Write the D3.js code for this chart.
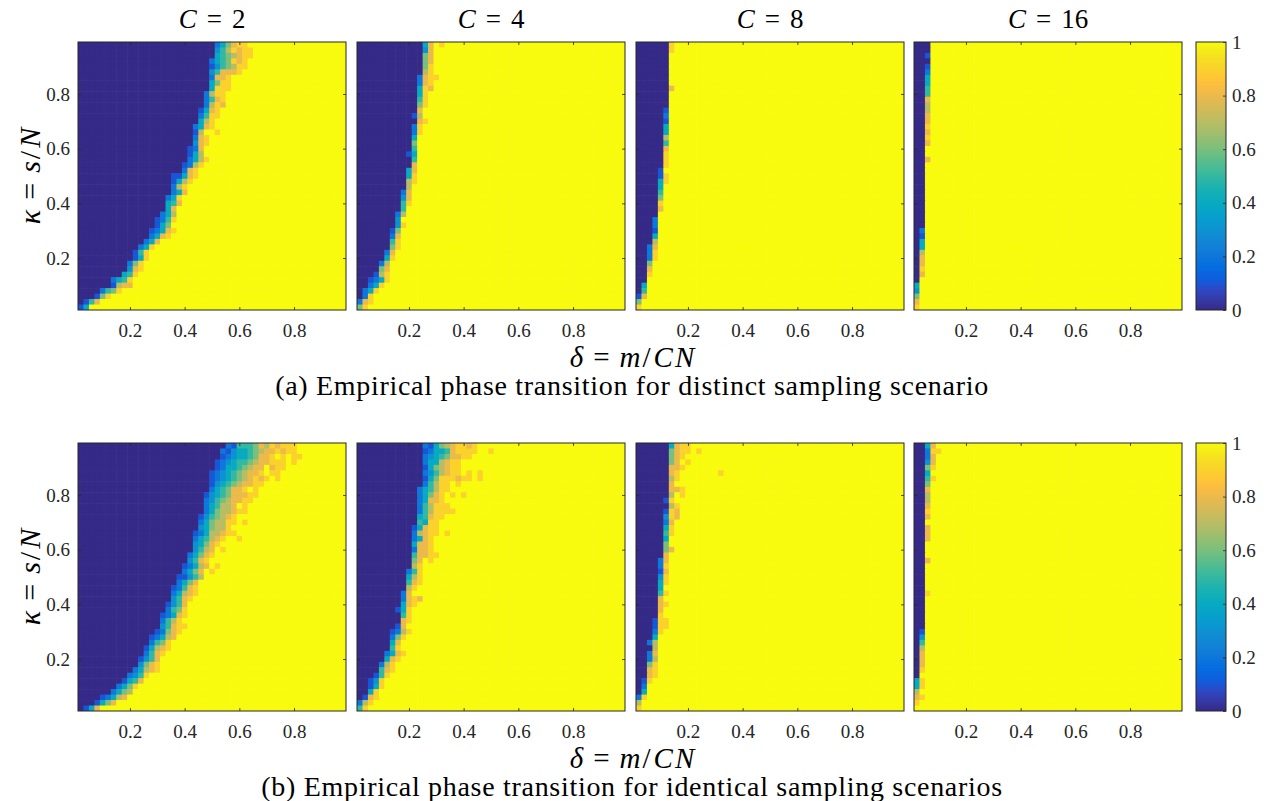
<!DOCTYPE html>
<html><head><meta charset="utf-8">
<script src="https://cdn.jsdelivr.net/npm/d3@7"></script>
<style>body{margin:0;background:#fff}</style>
</head><body><svg id="c" width="1267" height="801"></svg>
<script>
// ---------- data ----------
const Cvalues = [2, 4, 8, 16];
const deltaTicks = [0.2, 0.4, 0.6, 0.8];
const kappaTicks = [0.2, 0.4, 0.6, 0.8];
const cbTicks = [0, 0.2, 0.4, 0.6, 0.8, 1];
// grid centers of delta / kappa (0.02 ... 0.98)
const gridCenters = d3.range(1, 50).map(i => i / 50);
// each row (top kappa=0.98 -> bottom kappa=0.02): "N:digits"
// N leading cells of success rate 0, then transition cells (digit/10, a=1), rest 1
const distinctC2 = ["25:246899","25:3579899","25:4567899","24:2456989","24:1356799","24:358889","24:2889","24:4699","24:4999","23:2799","23:2589","23:2798","22:1489","22:2599","22:479","21:2489","21:17aa9","21:289","21:389","20:128","20:147","20:2479","19:1279","19:289","17:11489","17:1479","17:279","17:248","16:249","16:458","16:48","15:247","14:1259","14:146","13:12489","13:2489","12:248","11:249","10:159","10:149","9:269","9:389","8:459","6:2459","6:1788","4:2569","3:169","1:158","0:14"];
const distinctC4 = ["12:48a9","12:38","12:68","12:68","12:69","12:79","11:2899","11:289","11:498","11:49","11:59","11:69","11:8","10:17","11:89","10:29","10:29","10:4","10:6","10:5","9:14","10:5","10:8","9:48","9:49","9:79","9:7","8:28","8:38","8:59","8:5","7:27","7:3","7:39","6:16","6:28","6:59","6:69","5:28","5:49","4:27","4:68","3:179","2:1249","2:249","1:249","1:29","0:289","0:69"];
const distinctC8 = ["6:9","6:9","6:","6:","6:","6:","6:","6:","6:8","6:","6:","6:","5:1","5:2","5:1","5:4","5:4","5:7","5:5","5:8","5:9","5:9","5:9","4:1","4:19","4:49","4:4","4:5","4:6","4:9","4:8","4:","3:2","3:2","3:1","3:4","3:7","2:28","2:29","2:29","2:6","2:8","2:9","2:","1:4","1:5","0:18","0:6","0:9"];
const distinctC16 = ["3:","3:","2:1","3:","2:1","2:2","2:4","2:4","2:5","2:5","2:8","2:7","2:7","2:8","2:8","2:9","2:8","2:9","2:8","2:","2:","2:8","2:","2:","2:","2:","2:","2:","2:","2:","2:","2:","2:","2:","1:2","1:1","1:4","1:4","1:7","1:8","1:8","1:9","1:8","1:","0:4","0:3","0:6","0:8","0:9"];
const identicalC2 = ["27:2155568798999","26:21344567889899","26:1234456889a9a99","25:1234556788999a9","25:124456788a899","24:1234567889a99","24:12345678989a9","24:1345678899","24:2456889a9","23:1345688899","23:235678899","23:245778a9","23:24677899","22:1356789","22:2467799a9","22:346779","21:12477899","21:245789aa9","21:34689","21:3578a9","20:24689","20:3589","19:12478a9","19:2468a9","18:11357","18:2468","17:12589","17:24789","17:3589","16:1358","16:2569","15:12489","15:2579","15:35899","14:12689","13:12478","13:2569","12:14789","12:2589","11:1358","11:3689","10:24789","9:2359","8:1458","7:2469","6:2467","4:12478","3:1468","1:148"];
const identicalC4 = ["12:2146789989","12:1244589999aa9","12:234568899","12:2447899","12:1467899","12:2357899a9a9","12:146999899a9","12:25799a9","11:245799","11:24689a9a9","11:24889","11:257999","11:2579999","11:45899","11:5499","10:14899","10:27899a9","10:2489","10:4889","10:2889","10:58899","10:68a9","10:79","9:259","9:479","9:589","9:79","8:28","8:2898","8:489","7:149","8:59","8:89","7:18","6:1279","6:269","6:48","6:59","5:2489","5:489","4:279","4:589","3:159","2:139","2:149","2:49","1:189","0:279","0:59"];
const identicalC8 = ["6:4899","6:6899a9","6:689","6:68a9","6:889","6:89aaaaaaa9","6:79","6:8","6:889","6:7a9","5:19","6:79","5:198","5:398","5:28","5:49","5:59","5:4","5:6","5:68","5:8","4:28","4:29","4:18","4:39","4:49","4:4","4:59","4:8","4:89","4:8","4:9","3:199","3:199","3:29","3:4","2:27","3:7","2:28","2:27","2:69","2:89","2:89","1:19","1:2","1:4","0:29","0:7","0:9"];
const identicalC16 = ["2:48","2:299","2:28","2:38","2:69","2:4","2:59","2:6","2:8","2:7","2:7","2:8","2:9","2:8","2:","2:8","2:8","2:8","2:","2:","2:","2:8","2:","2:","2:","2:","2:","2:9","2:","2:","2:","2:","2:","2:","1:1","1:3","1:5","1:7","1:8","1:8","1:8","1:9","1:","0:49","0:49","0:7","0:89","0:9","0:"];
const captions = ["(a) Empirical phase transition for distinct sampling scenario",
                  "(b) Empirical phase transition for identical sampling scenarios"];

// parula colormap (MATLAB)
const parulaPos = [0,3,5,7,10,14,18,21,25,28,31,35,38,42,45,49,52,54,56,58,60,62,63].map(i => i / 63);
const parulaCol = ["#352a87","#353dad","#2c4ac7","#0f5cdd","#046de0","#127dd8","#108ed2","#079ccf","#07a9c2","#15b1b4","#2eb7a4","#59bd8c","#7cbf7b","#a5be6b","#c0bc60","#e1b952","#f8bb44","#ffc337","#fcce2e","#f7d826","#f5e41d","#f6f313","#f9fb0e"];

// ---------- drawing ----------
const svg = d3.select("#c");
const FONT = "Liberation Serif, Times New Roman, serif";
const INK = "#262626";
const P = 268;
const panelX = [78, 357, 636, 914];
const panelY = [42, 443];
const cbX = 1196, cbW = 30;
const color = d3.scaleLinear().domain(parulaPos).range(parulaCol).interpolate(d3.interpolateRgb).clamp(true);
const scenarios = [[distinctC2, distinctC4, distinctC8, distinctC16],
                   [identicalC2, identicalC4, identicalC8, identicalC16]];

function parseRow(s) {
  const [e, m] = s.split(":");
  const edge = +e;
  return gridCenters.map((d, c) => {
    if (c < edge) return 0;
    const k = c - edge;
    if (k < m.length) return m[k] === "a" ? 1 : (+m[k]) / 10;
    return 1;
  });
}

// math-like label: parts [text, italic, dx]
function mathText(sel, parts) {
  parts.forEach(([t, it, dx]) => {
    const ts = sel.append("tspan").text(t);
    if (it) ts.attr("font-style", "italic");
    if (dx) ts.attr("dx", dx);
  });
}

const defs = svg.append("defs");
const grad = defs.append("linearGradient").attr("id", "cbgrad")
  .attr("x1", 0).attr("y1", 1).attr("x2", 0).attr("y2", 0);
grad.selectAll("stop").data(d3.range(0, 1.0001, 0.02)).join("stop")
  .attr("offset", d => d).attr("stop-color", d => color(d));

scenarios.forEach((row, ri) => {
  const y0 = panelY[ri];
  row.forEach((rows, ci) => {
    const x0 = panelX[ci];
    const xs = d3.scaleLinear().domain([0.01, 0.99]).range([x0, x0 + P]);
    const ys = d3.scaleLinear().domain([0.01, 0.99]).range([y0 + P, y0]);
    const cid = `clip${ri}${ci}`;
    defs.append("clipPath").attr("id", cid).append("rect")
      .attr("x", x0).attr("y", y0).attr("width", P).attr("height", P);
    const cells = [];
    rows.forEach((s, r) => {
      const kappa = gridCenters[48 - r];
      parseRow(s).forEach((v, c) => cells.push({ delta: gridCenters[c], kappa, v }));
    });
    const g = svg.append("g");
    g.append("g").attr("clip-path", `url(#${cid})`)
      .selectAll("rect").data(cells).join("rect")
      .attr("x", d => xs(d.delta - 0.01))
      .attr("y", d => ys(d.kappa + 0.01))
      .attr("width", d => xs(d.delta + 0.01) - xs(d.delta - 0.01) + 0.6)
      .attr("height", d => ys(d.kappa - 0.01) - ys(d.kappa + 0.01) + 0.6)
      .attr("fill", d => color(d.v));

    const styleAxis = sel => {
      sel.select(".domain").remove();
      sel.selectAll(".tick line").attr("stroke", INK).attr("stroke-width", 0.8);
      sel.selectAll("text").attr("fill", INK);
      sel.attr("font-family", FONT).attr("font-size", 19);
    };
    g.append("g").attr("transform", `translate(0,${y0 + P})`)
      .call(d3.axisBottom(xs).tickValues(deltaTicks).tickSize(-3).tickFormat(d3.format(".1f")))
      .call(styleAxis)
      .call(s => s.selectAll("text").attr("dy", null).attr("y", 27));
    g.append("g").attr("transform", `translate(0,${y0})`)
      .call(d3.axisTop(xs).tickValues(deltaTicks).tickSize(-3).tickFormat(""))
      .call(styleAxis);
    g.append("g").attr("transform", `translate(${x0},0)`)
      .call(d3.axisLeft(ys).tickValues(kappaTicks).tickSize(-3).tickPadding(8)
        .tickFormat(ci === 0 ? d3.format(".1f") : ""))
      .call(styleAxis);
    g.append("g").attr("transform", `translate(${x0 + P},0)`)
      .call(d3.axisRight(ys).tickValues(kappaTicks).tickSize(-3).tickFormat(""))
      .call(styleAxis);
    g.append("rect").attr("x", x0).attr("y", y0).attr("width", P).attr("height", P)
      .attr("fill", "none").attr("stroke", INK).attr("stroke-width", 1);

    if (ri === 0) {
      const t = svg.append("text").attr("x", x0 + P / 2).attr("y", 28)
        .attr("text-anchor", "middle").attr("font-family", FONT).attr("font-size", 27).attr("fill", "#000");
      mathText(t, [["C", true, 0], ["=", false, 10], [String(Cvalues[ci]), false, 10]]);
    }
  });

  // colorbar
  const cs = d3.scaleLinear().domain([0, 1]).range([y0 + P, y0]);
  svg.append("rect").attr("x", cbX).attr("y", y0).attr("width", cbW).attr("height", P)
    .attr("fill", "url(#cbgrad)");
  svg.append("g").attr("transform", `translate(${cbX + cbW},0)`)
    .call(d3.axisRight(cs).tickValues(cbTicks).tickSize(-3).tickPadding(6).tickFormat(d3.format("~g")))
    .call(sel => {
      sel.select(".domain").remove();
      sel.selectAll(".tick line").attr("stroke", INK).attr("stroke-width", 0.8);
      sel.selectAll("text").attr("fill", INK);
      sel.attr("font-family", FONT).attr("font-size", 19);
    });
  svg.append("rect").attr("x", cbX).attr("y", y0).attr("width", cbW).attr("height", P)
    .attr("fill", "none").attr("stroke", INK).attr("stroke-width", 1);

  // axis labels
  const xl = svg.append("text").attr("x", 632).attr("y", y0 + P + 57)
    .attr("text-anchor", "middle").attr("font-family", FONT).attr("font-size", 29).attr("fill", "#000");
  mathText(xl, [["δ", true, 0], ["=", false, 10], ["m", true, 10], ["/", false, 2], ["C", true, 3], ["N", true, 2]]);

  const yl = svg.append("text").attr("transform", `translate(40,${y0 + P / 2}) rotate(-90)`)
    .attr("text-anchor", "middle").attr("font-family", FONT).attr("font-size", 30).attr("fill", "#000");
  mathText(yl, [["κ", true, 0], ["=", false, 10], ["s", true, 10], ["/", false, 2], ["N", true, 3]]);

  svg.append("text").attr("x", 632).attr("y", y0 + P + 85)
    .attr("text-anchor", "middle").attr("font-family", FONT).attr("font-size", 28)
    .attr("letter-spacing", 0.7).attr("fill", "#000").text(captions[ri]);
});
</script>
</body></html>
